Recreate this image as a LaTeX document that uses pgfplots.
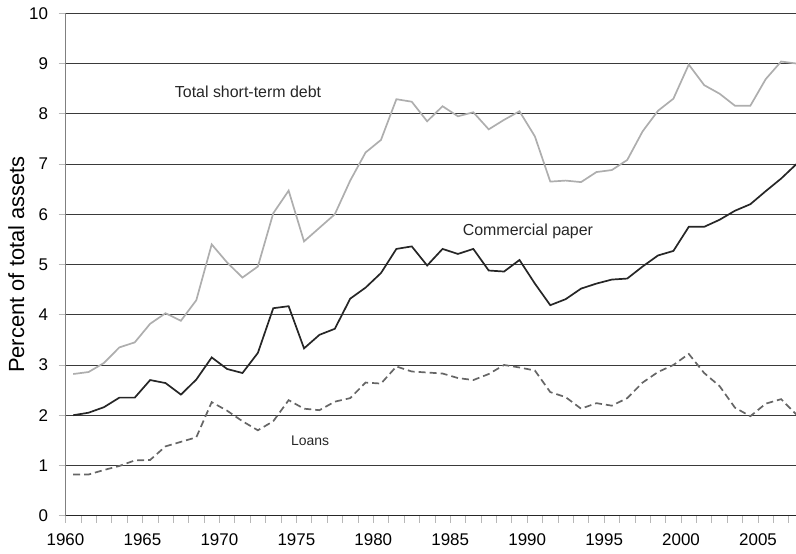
\documentclass[border=0pt]{standalone}
\usepackage{fontspec}
\setmainfont{Liberation Sans}
\usepackage{pgfplots}
\usepackage{pgfplotstable}
\pgfplotsset{compat=1.18}
\definecolor{totalc}{HTML}{AEAEAE}
\definecolor{cpc}{HTML}{262626}
\definecolor{loanc}{HTML}{666666}
\definecolor{gridc}{HTML}{3A3A3A}
\definecolor{tickc}{HTML}{B8B8B8}
\pgfplotstableread{
year total cp loans
1960.5 2.82 2.00 0.82
1961.5 2.86 2.05 0.82
1962.5 3.04 2.16 0.91
1963.5 3.35 2.35 0.99
1964.5 3.45 2.35 1.10
1965.5 3.82 2.70 1.11
1966.5 4.03 2.64 1.38
1967.5 3.88 2.41 1.47
1968.5 4.29 2.71 1.56
1969.5 5.40 3.15 2.26
1970.5 5.04 2.92 2.09
1971.5 4.74 2.84 1.88
1972.5 4.96 3.24 1.70
1973.5 6.02 4.13 1.88
1974.5 6.47 4.17 2.30
1975.5 5.46 3.33 2.13
1976.5 5.73 3.60 2.10
1977.5 6.00 3.72 2.27
1978.5 6.67 4.32 2.34
1979.5 7.23 4.54 2.65
1980.5 7.48 4.83 2.63
1981.5 8.29 5.31 2.97
1982.5 8.24 5.36 2.87
1983.5 7.85 4.98 2.85
1984.5 8.15 5.31 2.83
1985.5 7.95 5.21 2.74
1986.5 8.03 5.31 2.70
1987.5 7.69 4.88 2.82
1988.5 7.88 4.86 3.00
1989.5 8.05 5.09 2.95
1990.5 7.55 4.62 2.89
1991.5 6.65 4.19 2.46
1992.5 6.67 4.31 2.36
1993.5 6.64 4.52 2.13
1994.5 6.84 4.62 2.24
1995.5 6.88 4.70 2.19
1996.5 7.08 4.72 2.34
1997.5 7.65 4.96 2.65
1998.5 8.06 5.18 2.86
1999.5 8.30 5.27 3.00
2000.5 8.98 5.75 3.22
2001.5 8.57 5.75 2.84
2002.5 8.40 5.89 2.58
2003.5 8.16 6.07 2.15
2004.5 8.16 6.20 1.98
2005.5 8.69 6.46 2.23
2006.5 9.04 6.71 2.32
2007.5 9.00 7.00 2.01
}\datatable
\begin{document}
\begin{tikzpicture}
\useasboundingbox (-65.5bp,-38.3bp) rectangle (730.5bp,515.7bp);
\begin{axis}[
  at={(0,0)}, anchor=south west,
  scale only axis,
  width=731bp, height=502.4bp,
  xmin=1960, xmax=2007.5,
  ymin=0, ymax=10,
  axis x line*=bottom, axis y line*=left,
  x axis line style={draw=cpc, line width=0.8bp},
  y axis line style={draw=gray, line width=0.8bp},
  xtick={1960,1965,...,2005},
  minor xtick={1960,...,2007},
  ytick={0,1,...,10},
  tick align=outside,
  major tick length=7bp, minor tick length=7bp,
  every tick/.style={draw=tickc, line width=0.6bp},
  x tick label style={/pgf/number format/1000 sep={}, font=\fontsize{17}{20}\selectfont, yshift=-7bp},
  y tick label style={font=\fontsize{17}{20}\selectfont, xshift=-7bp},
  /pgf/number format/assume math mode=true,
  ymajorgrids,
  grid style={draw=gridc, line width=0.7bp},
  ylabel={Percent of total assets},
  ylabel style={font=\fontsize{22}{26}\selectfont},
  every axis y label/.append style={at={(ticklabel cs:0.5)}, anchor=south, yshift=-2bp},
]
\addplot[totalc, line width=1.7bp] table[x=year, y=total] {\datatable};
\addplot[cpc, line width=1.7bp] table[x=year, y=cp] {\datatable};
\addplot[loanc, line width=1.7bp, dash pattern=on 7bp off 4bp] table[x=year, y=loans] {\datatable};
\node[font=\fontsize{16}{19}\selectfont, text=cpc] at (axis cs:1971.86,8.43) {Total short-term debt};
\node[font=\fontsize{16}{19}\selectfont, text=cpc] at (axis cs:1990.05,5.66) {Commercial paper};
\node[font=\fontsize{14}{17}\selectfont, text=cpc] at (axis cs:1975.9,1.49) {Loans};
\end{axis}
\end{tikzpicture}
\end{document}
